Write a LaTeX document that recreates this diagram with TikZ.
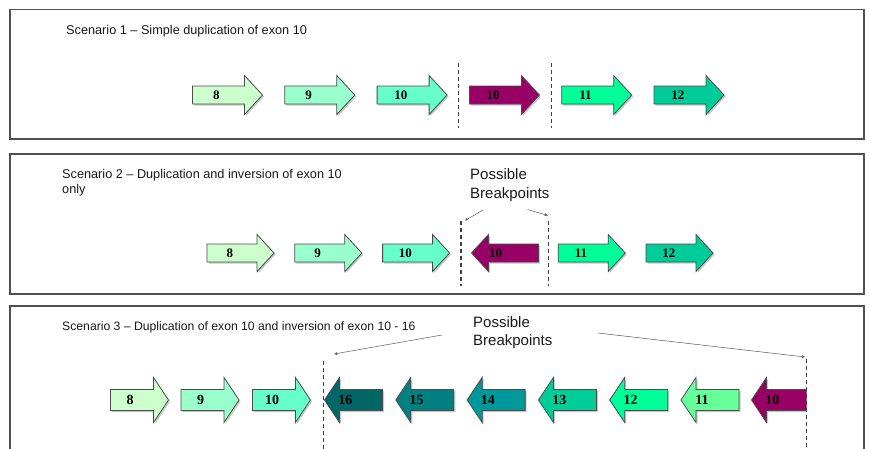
\documentclass[tikz,border=0pt]{standalone}
\usepackage{fontspec}
\setmainfont{Liberation Sans}
\newfontfamily\numfont{Liberation Serif}
\usetikzlibrary{arrows.meta}
\definecolor{cA}{HTML}{CCFFCC}
\definecolor{cB}{HTML}{99FFCC}
\definecolor{cC}{HTML}{66FFCC}
\definecolor{cMag}{HTML}{990066}
\definecolor{cD}{HTML}{00FF99}
\definecolor{cE}{HTML}{00CC99}
\definecolor{cF}{HTML}{009999}
\definecolor{cG}{HTML}{008080}
\definecolor{cH}{HTML}{006666}
\definecolor{cI}{HTML}{66FF99}
\definecolor{frame}{HTML}{505050}
\tikzset{
  panel/.style={draw=frame, line width=1.3pt},
  exonedge/.style={draw=black!70, line width=0.8pt, line join=miter},
  exonshadow/.style={fill=black!22},
  exonlabel/.style={font=\numfont\bfseries\fontsize{\lblsize}{\lblsize}\selectfont, inner sep=0pt, text=black},
  cut/.style={draw=black!75, line width=1.1pt, dash pattern=on 4pt off 3pt},
  caption/.style={font=\fontsize{12.7}{15}\selectfont, inner sep=0pt, text=black!90, align=left},
  bptext/.style={font=\fontsize{15}{18.5}\selectfont, inner sep=0pt, text=black!90, align=left},
  pointer/.style={draw=black!65, line width=0.5pt, -{Stealth[length=3.5pt,width=3pt]}},
}
% right-pointing exon: name, left x, centre y, colour, label
\newcommand\exonR[5]{%
  \fill[exonshadow] (#2+1.5,#3-\ea+1.5) -- (#2+\eL-\eH+1.5,#3-\ea+1.5) -- (#2+\eL-\eH+1.5,#3-\eb+1.5) -- (#2+\eL+1.5,#3+1.5) -- (#2+\eL-\eH+1.5,#3+\eb+1.5) -- (#2+\eL-\eH+1.5,#3+\ea+1.5) -- (#2+1.5,#3+\ea+1.5) -- cycle;
  \filldraw[exonedge, fill=#4] (#2,#3-\ea) -- (#2+\eL-\eH,#3-\ea) -- (#2+\eL-\eH,#3-\eb) -- (#2+\eL,#3) -- (#2+\eL-\eH,#3+\eb) -- (#2+\eL-\eH,#3+\ea) -- (#2,#3+\ea) -- cycle;
  \node[exonlabel] (#1) at (#2+0.34*\eL,#3) {#5};
}
% left-pointing exon: name, tip x, centre y, colour, label
\newcommand\exonL[5]{%
  \fill[exonshadow] (#2+\eL+1.5,#3-\ea+1.5) -- (#2+\eH+1.5,#3-\ea+1.5) -- (#2+\eH+1.5,#3-\eb+1.5) -- (#2+1.5,#3+1.5) -- (#2+\eH+1.5,#3+\eb+1.5) -- (#2+\eH+1.5,#3+\ea+1.5) -- (#2+\eL+1.5,#3+\ea+1.5) -- cycle;
  \filldraw[exonedge, fill=#4] (#2+\eL,#3-\ea) -- (#2+\eH,#3-\ea) -- (#2+\eH,#3-\eb) -- (#2,#3) -- (#2+\eH,#3+\eb) -- (#2+\eH,#3+\ea) -- (#2+\eL,#3+\ea) -- cycle;
  \node[exonlabel] (#1) at (#2+0.36*\eL,#3) {#5};
}
\begin{document}
\begin{tikzpicture}[x=1pt,y=-1pt]
\fill[white] (0,0) rectangle (869,448);
\useasboundingbox (0,0) rectangle (869,448);

% ---------- panels ----------
\draw[panel] (10,9.5) rectangle (864,139);
\draw[panel] (10,154) rectangle (864,294);
\draw[panel] (10,452) -- (10,306) -- (864,306) -- (864,452);

% ---------- Scenario 1 ----------
\node[caption, anchor=west] (cap1) at (66,31) {Scenario 1 – Simple duplication of exon 10};
\def\eL{70}\def\eH{18}\def\ea{9}\def\eb{19.5}\def\lblsize{13}
\exonR{a8}{192.5}{95}{cA}{8}
\exonR{a9}{284.8}{95}{cB}{9}
\exonR{a10}{377.1}{95}{cC}{10}
\exonR{a10d}{469.4}{95}{cMag}{10}
\exonR{a11}{561.7}{95}{cD}{11}
\exonR{a12}{654}{95}{cE}{12}
\draw[cut] (458.6,63) -- (458.6,128);
\draw[cut] (551.2,63) -- (551.2,128);

% ---------- Scenario 2 ----------
\node[caption, anchor=north west] (cap2) at (62,169) {Scenario 2 – Duplication and inversion of exon 10\\only};
\def\eL{67}\def\eH{17}\def\ea{9}\def\eb{18.5}\def\lblsize{13}
\exonR{b8}{207}{253}{cA}{8}
\exonR{b9}{294.8}{253}{cB}{9}
\exonR{b10}{382.6}{253}{cC}{10}
\exonL{b10i}{471.5}{253}{cMag}{10}
\exonR{b11}{558.2}{253}{cD}{11}
\exonR{b12}{646}{253}{cE}{12}
\draw[cut] (461,221) -- (461,286);
\draw[cut] (548.6,221) -- (548.6,286);
\node[bptext, anchor=north west] (bp2) at (470,168.5) {Possible\\Breakpoints};
\coordinate (bp2la) at (483,210);
\coordinate (bp2lb) at (465,220.5);
\coordinate (bp2ra) at (527.5,209.5);
\coordinate (bp2rb) at (548,215.5);
\draw[pointer] (bp2la) -- (bp2lb);
\draw[pointer] (bp2ra) -- (bp2rb);

% ---------- Scenario 3 ----------
\node[caption, anchor=west, font=\fontsize{12.2}{15}\selectfont] (cap3) at (62,327) {Scenario 3 – Duplication of exon 10 and inversion of exon 10 - 16};
\def\eL{58}\def\eH{15}\def\ea{10.5}\def\eb{22.5}\def\lblsize{14}
\exonR{c8}{110.5}{400}{cA}{8}
\exonR{c9}{181}{400}{cB}{9}
\exonR{c10}{252.5}{400}{cC}{10}
\exonL{c16}{324.5}{400}{cH}{16}
\exonL{c15}{395.8}{400}{cG}{15}
\exonL{c14}{467.1}{400}{cF}{14}
\exonL{c13}{538.4}{400}{cE}{13}
\exonL{c12}{609.7}{400}{cD}{12}
\exonL{c11}{681}{400}{cI}{11}
\begin{scope}
\clip (740,360) rectangle (806.5,440);
\exonL{c10i}{751.5}{400}{cMag}{10}
\end{scope}
\draw[cut] (323.5,361) -- (323.5,452);
\draw[cut] (806.5,359) -- (806.5,452);
\node[bptext, anchor=north west] (bp3) at (473,316) {Possible\\Breakpoints};
\coordinate (bp3la) at (442,335);
\coordinate (bp3lb) at (334,354);
\coordinate (bp3ra) at (598,333);
\coordinate (bp3rb) at (805,357);
\draw[pointer] (bp3la) -- (bp3lb);
\draw[pointer] (bp3ra) -- (bp3rb);
\end{tikzpicture}
\end{document}
